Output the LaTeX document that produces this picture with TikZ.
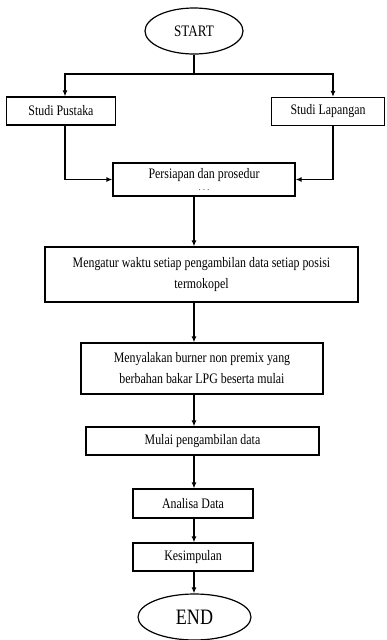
\documentclass[tikz,border=0pt]{standalone}
\usepackage{fontspec}
\setmainfont{Liberation Serif}[FakeStretch=0.82]
\usetikzlibrary{shapes.geometric,arrows.meta}
\begin{document}
\begin{tikzpicture}[x=1pt,y=-1pt,line width=1.2pt,
    box/.style={draw,rectangle,minimum height=28pt,inner sep=1pt,align=center,
      font=\fontsize{14.5}{21}\selectfont},
    term/.style={draw,ellipse,inner sep=0pt},
    arrow/.style={-{Latex[length=6pt,width=5pt]}}]
  \useasboundingbox (0,0) rectangle (386,640);
  % start and the two studies
  \node[term,minimum width=98pt,minimum height=46pt,font=\fontsize{16}{18}\selectfont]
    (start) at (194,31) {START};
  \coordinate (fork) at (194,74);
  \node[box,minimum width=109pt] (pustaka) at (61,111) {Studi Pustaka};
  \node[box,minimum width=113pt] (lapangan) at (328,111.5) {Studi Lapangan};
  \draw (start) -- (fork);
  \draw[arrow] (fork) -| ([xshift=4pt]pustaka.north);
  \draw[arrow] (fork) -| ([xshift=5pt]lapangan.north);
  % preparation
  \node[box,minimum width=182pt,minimum height=33pt] (persiapan) at (204,179.5)
    {Persiapan dan prosedur\\[-9pt]{\fontsize{9}{9}\selectfont. . .}};
  \draw[arrow] ([xshift=4pt]pustaka.south) |- (persiapan.west);
  \draw[arrow] ([xshift=5pt]lapangan.south) |- (persiapan.east);
  % main steps
  \node[box,minimum width=313pt,minimum height=55pt] (mengatur) at (201.5,274.5)
    {Mengatur waktu setiap pengambilan data setiap posisi\\termokopel};
  \node[box,minimum width=242pt,minimum height=51pt] (menyalakan) at (202,368.5)
    {Menyalakan burner non premix yang\\berbahan bakar LPG beserta mulai};
  \node[box,minimum width=233pt] (mulai) at (202.5,441) {Mulai pengambilan data};
  \node[box,minimum width=120pt,minimum height=29pt] (analisa) at (193,503.5) {Analisa Data};
  \node[box,minimum width=120pt] (kesimpulan) at (193,557) {Kesimpulan};
  \node[term,minimum width=113pt,minimum height=46pt,font=\fontsize{22}{24}\selectfont]
    (end) at (194.5,617) {END};
  \draw[arrow] (persiapan.south -| fork) -- (mengatur.north -| fork);
  \draw[arrow] (mengatur.south -| fork) -- (menyalakan.north -| fork);
  \draw[arrow] (menyalakan.south -| fork) -- (mulai.north -| fork);
  \draw[arrow] (mulai.south -| fork) -- (analisa.north -| fork);
  \draw[arrow] (analisa.south -| fork) -- (kesimpulan.north -| fork);
  \draw[arrow] (kesimpulan.south -| fork) -- (end.north -| fork);
\end{tikzpicture}
\end{document}
